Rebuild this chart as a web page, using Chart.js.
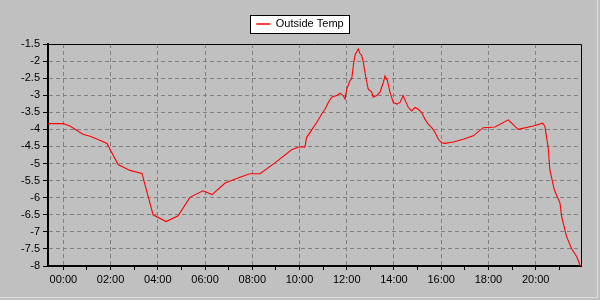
<!DOCTYPE html>
<html>
<head>
<meta charset="utf-8">
<script src="https://cdn.jsdelivr.net/npm/chart.js@4/dist/chart.umd.min.js"></script>
<style>
html,body{margin:0;padding:0;background:#c0c0c0;}
#wrap{width:600px;height:300px;position:relative;}
</style>
</head>
<body>
<div id="wrap"><canvas id="c" width="600" height="300"></canvas></div>
<script>
// Time of day in hours (negative = before midnight of the previous day)
const timeHours = [
  -0.65, -0.01, 0.28, 0.83, 1.13, 1.55, 1.85, 1.98, 2.32, 2.82,
  3.33, 3.80, 4.35, 4.86, 5.36, 5.91, 6.30, 6.85, 7.48, 7.90,
  8.33, 8.96, 9.68, 10.02, 10.23, 10.30, 10.58, 10.73, 10.94, 11.08,
  11.22, 11.36, 11.57, 11.71, 11.85, 11.93, 12.00, 12.14, 12.21, 12.28,
  12.35, 12.49, 12.56, 12.63, 12.70, 12.77, 12.85, 12.91, 13.06, 13.12,
  13.27, 13.41, 13.55, 13.62, 13.72, 13.83, 13.97, 14.12, 14.26, 14.39,
  14.51, 14.61, 14.75, 14.89, 15.03, 15.17, 15.31, 15.45, 15.60, 15.74,
  15.88, 16.02, 16.16, 16.51, 16.93, 17.36, 17.78, 18.28, 18.84, 19.26,
  19.90, 20.30, 20.39, 20.53, 20.60, 20.79, 21.03, 21.10, 21.24, 21.31,
  21.52, 21.74, 21.88, 21.92
];
const outsideTemp = [
  -3.83, -3.83, -3.90, -4.14, -4.20, -4.32, -4.41, -4.59, -5.03, -5.20,
  -5.29, -6.50, -6.70, -6.53, -5.99, -5.80, -5.91, -5.57, -5.40, -5.30,
  -5.30, -4.98, -4.59, -4.51, -4.52, -4.24, -3.95, -3.80, -3.55, -3.41,
  -3.21, -3.06, -3.01, -2.94, -3.01, -3.11, -2.82, -2.57, -2.52, -2.13,
  -1.83, -1.64, -1.78, -1.83, -2.03, -2.32, -2.62, -2.82, -2.91, -3.06,
  -3.01, -2.91, -2.62, -2.44, -2.57, -2.91, -3.21, -3.26, -3.21, -3.01,
  -3.21, -3.36, -3.46, -3.36, -3.41, -3.50, -3.70, -3.85, -3.95, -4.09,
  -4.29, -4.39, -4.41, -4.37, -4.29, -4.19, -3.95, -3.93, -3.72, -4.00,
  -3.90, -3.82, -3.91, -4.53, -5.18, -5.77, -6.16, -6.55, -6.95, -7.14,
  -7.49, -7.73, -7.98, -8.00
];
const seriesLabel = 'Outside Temp';
const xTickLabels = ['00:00','02:00','04:00','06:00','08:00','10:00','12:00','14:00','16:00','18:00','20:00'];
const yMin = -8, yMax = -1.5, yStep = 0.5;

const FONT = {family: '"Liberation Sans", Arial, sans-serif', size: 11};

const framePlugin = {
  id: 'frame',
  beforeUpdate(chart) {
    const lg = chart.legend;
    if (lg && !lg._patchedFit) {
      const orig = lg.fit;
      lg.fit = function () { orig.call(this); this.height = 44 - 4; };
      lg._patchedFit = true;
    }
  },
  beforeDraw(chart) {
    const ctx = chart.ctx;
    ctx.save();
    ctx.fillStyle = '#c0c0c0';
    ctx.fillRect(0, 0, chart.width, chart.height);
    // outer light frame
    ctx.strokeStyle = '#dedede';
    ctx.lineWidth = 1;
    ctx.beginPath();
    ctx.moveTo(597.5, 0); ctx.lineTo(597.5, 297.5); ctx.lineTo(0, 297.5);
    ctx.stroke();
    // legend box
    const lg = chart.legend;
    if (lg && lg.legendHitBoxes && lg.legendHitBoxes.length) {
      const hb = lg.legendHitBoxes[0];
      const x0 = Math.round(hb.left) - 6, x1 = Math.round(hb.left + hb.width) + 6;
      const y0 = 15, y1 = 34;
      ctx.fillStyle = '#ffffff';
      ctx.fillRect(x0, y0, x1 - x0, y1 - y0);
      ctx.strokeStyle = '#000000';
      ctx.strokeRect(x0 + 0.5, y0 + 0.5, x1 - x0 - 1, y1 - y0 - 1);
    }
    ctx.restore();
  },
  afterDraw(chart) {
    const a = chart.chartArea, ctx = chart.ctx;
    ctx.save();
    ctx.strokeStyle = '#000';
    ctx.lineWidth = 1;
    ctx.beginPath();
    ctx.moveTo(a.left, Math.floor(a.top) + 0.5);
    ctx.lineTo(Math.floor(a.right) + 0.5, Math.floor(a.top) + 0.5);
    ctx.lineTo(Math.floor(a.right) + 0.5, a.bottom);
    ctx.stroke();
    ctx.restore();
  }
};

new Chart(document.getElementById('c'), {
  type: 'line',
  data: {
    datasets: [{
      label: seriesLabel,
      data: timeHours.map((h, i) => ({x: h, y: outsideTemp[i]})),
      borderColor: '#ff0000',
      backgroundColor: '#ff0000',
      borderWidth: 1.1,
      pointRadius: 0,
      tension: 0,
      fill: false
    }]
  },
  options: {
    responsive: false,
    animation: false,
    devicePixelRatio: 1,
    layout: {padding: {top: 4, right: 0, bottom: 0, left: 0}},
    plugins: {
      tooltip: {enabled: false},
      legend: {
        display: true,
        position: 'top',
        labels: {
          font: FONT,
          color: '#000',
          boxWidth: 14,
          boxHeight: 1.5,
          padding: 14.5,
          generateLabels(chart) {
            return chart.data.datasets.map((d, i) => ({
              text: d.label, fillStyle: d.borderColor, strokeStyle: d.borderColor,
              lineWidth: 0, datasetIndex: i, hidden: false, fontColor: '#000'
            }));
          }
        }
      }
    },
    scales: {
      x: {
        type: 'linear',
        min: timeHours[0],
        max: timeHours[timeHours.length - 1],
        afterFit(s) { s.height = 34; },
        ticks: {
          stepSize: 1,
          includeBounds: false,
          autoSkip: false,
          maxRotation: 0,
          maxTicksLimit: 100,
          padding: 3,
          font: FONT,
          color: '#000',
          callback(v) {
            return (Number.isInteger(v) && v % 2 === 0 && v >= 0) ? xTickLabels[v / 2] : '';
          }
        },
        grid: {
          color: c => (c.tick && c.tick.value % 2 === 0) ? '#808080' : 'rgba(0,0,0,0)',
          lineWidth: 1,
          drawTicks: true,
          tickLength: 4,
          tickColor: '#000',
          tickWidth: 1
        },
        border: {display: true, color: '#000', width: 2, dash: [4, 3]}
      },
      y: {
        type: 'linear',
        min: yMin,
        max: yMax,
        afterFit(s) { s.width = 48; },
        ticks: {
          stepSize: yStep,
          maxTicksLimit: 100,
          padding: 3,
          font: FONT,
          color: '#000',
          callback(v) { return String(v); }
        },
        grid: {
          color: '#808080',
          lineWidth: 1,
          drawTicks: true,
          tickLength: 5,
          tickColor: '#000',
          tickWidth: 1
        },
        border: {display: true, color: '#000', width: 2, dash: [4, 3]}
      },
      yRightSpacer: {
        type: 'linear',
        position: 'right',
        display: true,
        afterFit(s) { s.width = 19; },
        ticks: {display: false},
        grid: {display: false, drawTicks: false},
        border: {display: false}
      }
    }
  },
  plugins: [framePlugin]
});
</script>
</body>
</html>
